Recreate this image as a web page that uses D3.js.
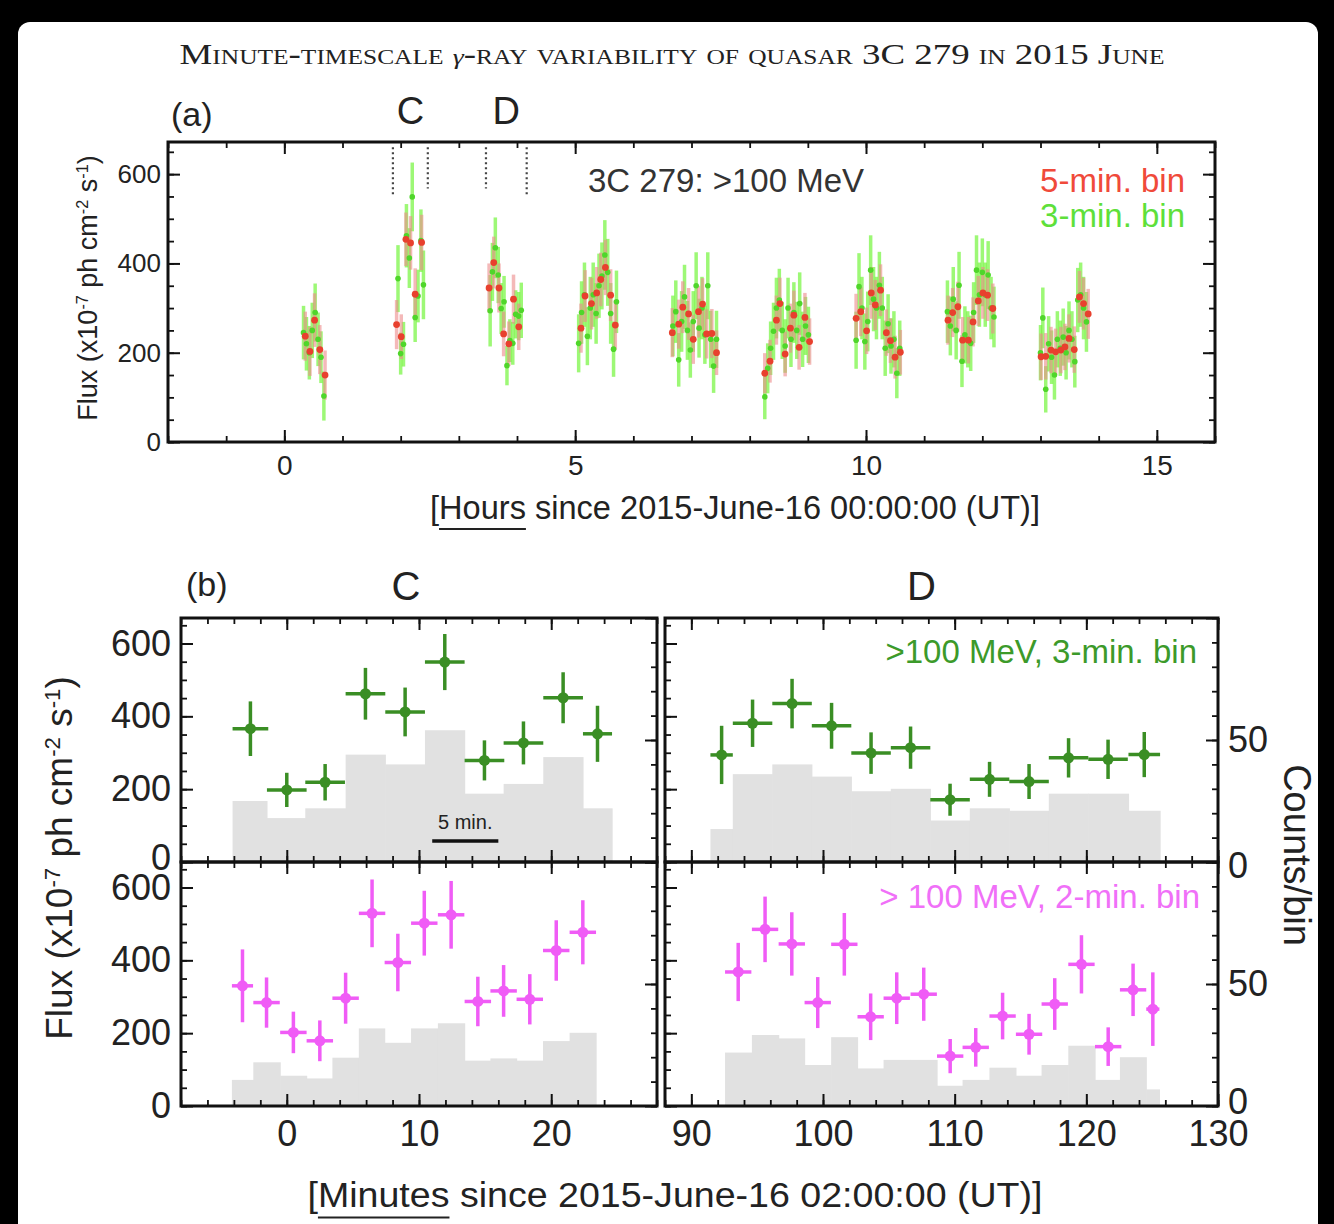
<!DOCTYPE html>
<html>
<head>
<meta charset="utf-8">
<script src="https://cdn.jsdelivr.net/npm/d3@7"></script>
<style>
  body { margin: 0; background: #000; }
  svg { display: block; }
</style>
</head>
<body>
<svg id="fig" width="1334" height="1224"></svg>
<script>
// ---------- data ----------
// panel (a): [hours, flux, error]  (5-min bins, red)
const redBins = [
  [0.36,237,55],[0.44,203,55],[0.52,273,60],[0.61,207,55],[0.70,150,55],
  [1.93,263,55],[2.01,236,50],[2.09,454,60],[2.17,446,60],[2.25,331,58],[2.36,447,62],
  [3.52,345,55],[3.60,402,58],[3.69,345,55],[3.77,242,50],[3.86,220,50],[3.94,320,55],[4.03,258,52],
  [5.10,255,55],[5.17,327,58],[5.28,310,58],[5.37,334,58],[5.44,364,60],[5.52,391,62],[5.61,329,58],[5.69,262,55],
  [6.67,245,55],[6.78,264,55],[6.85,302,58],[6.95,287,58],[7.03,230,55],[7.12,292,58],[7.19,309,58],[7.26,242,55],[7.35,243,55],[7.43,200,50],
  [8.26,154,45],[8.35,181,48],[8.46,273,55],[8.52,310,58],[8.61,197,50],[8.70,255,55],[8.76,284,55],[8.85,212,50],[8.95,279,55],[9.03,225,52],
  [9.83,277,55],[9.91,292,55],[10.01,249,52],[10.09,334,58],[10.16,307,56],[10.25,340,58],[10.35,245,52],[10.42,227,50],[10.50,190,48],[10.59,201,50],
  [11.41,273,55],[11.49,290,55],[11.58,303,56],[11.66,228,52],[11.76,228,52],[11.84,269,55],[11.93,316,56],[12.01,334,58],[12.09,329,58],[12.18,299,56],
  [13.01,191,52],[13.09,192,52],[13.18,206,52],[13.26,202,52],[13.35,206,52],[13.42,213,52],[13.49,232,54],[13.58,207,52],[13.67,325,58],[13.74,310,58],[13.82,287,56]
];
// panel (a): [hours, flux, error]  (3-min bins, green; flares C and D come from panel b)
const greenBins = [
  [0.33,245,60],[0.38,220,60],[0.43,200,60],[0.48,250,62],[0.53,290,65],[0.58,230,60],[0.63,190,58],[0.68,103,55],
  [5.06,221,65],[5.11,290,70],[5.16,330,72],[5.21,237,65],[5.26,300,70],[5.31,330,72],[5.36,288,68],[5.41,350,72],[5.46,372,75],[5.51,419,78],[5.56,380,75],[5.61,288,68],[5.66,208,62],[5.71,314,70],
  [6.68,260,68],[6.73,292,70],[6.78,184,60],[6.83,270,68],[6.88,325,72],[6.93,250,66],[6.98,206,62],[7.03,270,68],[7.08,350,75],[7.13,255,66],[7.18,300,70],[7.23,240,65],[7.28,350,75],[7.33,230,64],[7.38,170,60],[7.43,230,64],
  [8.26,101,50],[8.31,165,56],[8.36,210,60],[8.41,248,64],[8.46,300,68],[8.51,318,70],[8.56,250,64],[8.61,215,60],[8.66,300,68],[8.71,230,62],[8.76,290,68],[8.81,250,64],[8.86,310,70],[8.91,230,62],[8.96,260,65],[9.01,240,63],
  [9.83,228,64],[9.88,348,75],[9.93,300,70],[9.98,225,63],[10.03,270,67],[10.08,385,78],[10.13,320,72],[10.18,300,70],[10.23,351,75],[10.28,300,70],[10.33,210,62],[10.38,265,66],[10.43,215,62],[10.48,230,63],[10.53,154,56],[10.58,210,62],
  [11.40,292,70],[11.45,260,66],[11.50,320,72],[11.55,250,65],[11.60,351,75],[11.65,181,58],[11.70,240,64],[11.75,230,63],[11.80,221,62],[11.85,290,68],[11.90,385,78],[11.95,330,72],[12.00,380,76],[12.05,330,72],[12.10,374,76],[12.15,300,70],[12.20,280,68],
  [13.00,200,62],[13.04,278,68],[13.09,118,52],[13.14,220,62],[13.19,190,60],[13.24,150,55],[13.29,230,63],[13.34,210,62],[13.39,235,64],[13.44,200,60],[13.49,250,65],[13.54,230,63],[13.59,180,58],[13.64,318,72],[13.69,330,72],[13.74,300,70],[13.79,269,67]
];

// panel (b): [minutes since 02:00, flux, error, bin half-width (min), counts/bin]
const cUpper = [
  [-2.75,366,75,1.35,25],[0,198,47,1.5,18],[2.9,219,50,1.5,22],[5.95,462,71,1.5,44],[8.95,412,67,1.5,40],
  [11.95,549,77,1.5,54],[14.95,279,55,1.5,28],[17.9,327,59,1.5,32],[20.9,451,70,1.5,43],[23.5,352,77,1.1,22]
];
const dUpper = [
  [92.3,294,80,0.85,13.5],[94.65,381,65,1.5,36],[97.65,435,68,1.5,40],[100.65,374,63,1.5,35],[103.65,299,57,1.5,29],
  [106.65,314,58,1.5,30],[109.65,171,44,1.5,17],[112.65,227,48,1.5,22],[115.65,221,48,1.5,21],[118.65,286,54,1.5,28],
  [121.65,282,54,1.5,28],[124.4,295,62,1.2,21]
];
const cLower = [
  [-3.35,330,100,0.8,10.7],[-1.53,284,69,1,17.9],[0.5,202,57,1,12.4],[2.5,179,56,1,11.3],[4.45,296,70,1,19.8],
  [6.45,529,93,1,31.8],[8.4,394,79,1,25.9],[10.4,502,89,1,31.8],[12.43,525,93,1,33.9],[14.45,287,68,1,18.6],
  [16.4,316,71,1,19.5],[18.38,293,69,1,18.6],[20.38,427,83,1,26.6],[22.39,477,88,1,30]
];
const dLower = [
  [93.56,368,80,1,21.9],[95.6,485,90,1,29.1],[97.63,445,87,1,27.7],[99.6,284,70,1,16.8],[101.62,444,86,1,28.2],
  [103.62,245,64,1,15.4],[105.6,296,71,1,18.9],[107.65,307,73,1,18.9],[109.66,137,47,1,8.3],[111.6,161,53,1,10.7],
  [113.64,247,64,1,15.7],[115.65,197,56,1,12.4],[117.6,280,71,1,16.8],[119.63,389,80,1,24.7],[121.66,163,53,1,10.7],
  [123.55,319,72,1,20],[125.05,266,101,0.5,6.8]
];

// time windows shown in panel (b), minutes since 02:00
const cWindow = [-8, 28];
const dWindow = [88, 130];
const markFlux = [660, 548, 568, 568, 548]; // top and bottom of the dotted window marks in panel (a)

const fluxTicks = [0, 200, 400, 600];
const hourTicks = [0, 5, 10, 15];
const cMinTicks = [0, 10, 20];
const dMinTicks = [90, 100, 110, 120, 130];
const countTicks = [0, 50];

// ---------- setup ----------
const FONT = "'Liberation Sans', Arial, Helvetica, sans-serif";
const svg = d3.select("#fig");

svg.append("rect")
  .attr("x", 18).attr("y", 22)
  .attr("width", 1300).attr("height", 1240)
  .attr("rx", 12)
  .attr("fill", "#fff");

// inward ticks (minor + major) along one edge
function edgeTicks(make, scale, minor, major, tr, labels, fs, pad) {
  svg.append("g").attr("transform", tr)
    .call(make(scale).tickValues(minor).tickSize(-6).tickFormat(""))
    .call(s => s.select(".domain").remove())
    .selectAll("line").attr("stroke", "#111").attr("stroke-width", 1.8);
  const g = svg.append("g").attr("transform", tr)
    .call(make(scale).tickValues(major).tickSize(-12).tickPadding(pad || 0)
      .tickFormat(labels ? d3.format("d") : ""))
    .call(s => s.select(".domain").remove());
  g.selectAll("line").attr("stroke", "#111").attr("stroke-width", 2);
  g.selectAll("text").attr("font-size", fs).attr("font-family", FONT).attr("fill", "#222");
  if (!labels) g.selectAll("text").remove();
  return g;
}

function frameRect(x0, x1, y0, y1) {
  svg.append("rect")
    .attr("x", x0).attr("y", y0)
    .attr("width", x1 - x0).attr("height", y1 - y0)
    .attr("fill", "none").attr("stroke", "#111").attr("stroke-width", 3);
}

function label(x, y, txt, fs, opts = {}) {
  const t = svg.append("text")
    .attr("x", x).attr("y", y)
    .attr("font-family", opts.family || FONT)
    .attr("font-size", fs)
    .attr("fill", opts.fill || "#222")
    .attr("text-anchor", opts.anchor || "start")
    .text(txt);
  if (opts.transform) t.attr("transform", opts.transform);
  return t;
}

// flux label with superscripts
function fluxLabel(x, y, fs) {
  const t = svg.append("text")
    .attr("transform", `translate(${x},${y}) rotate(-90)`)
    .attr("text-anchor", "middle")
    .attr("font-family", FONT).attr("font-size", fs).attr("fill", "#222");
  t.append("tspan").text("Flux (x10");
  t.append("tspan").attr("baseline-shift", "super").attr("font-size", fs * 0.6).text("-7");
  t.append("tspan").text(" ph cm");
  t.append("tspan").attr("baseline-shift", "super").attr("font-size", fs * 0.6).text("-2");
  t.append("tspan").text(" s");
  t.append("tspan").attr("baseline-shift", "super").attr("font-size", fs * 0.6).text("-1");
  t.append("tspan").text(")");
}

// underlined first word in a bracketed axis title
function underlinedTitle(cx, y, word, rest, fs, len) {
  const t = svg.append("text")
    .attr("x", cx).attr("y", y)
    .attr("text-anchor", "middle")
    .attr("font-family", FONT).attr("font-size", fs).attr("fill", "#222")
    .attr("textLength", len).attr("lengthAdjust", "spacingAndGlyphs")
    .text("[" + word + rest);
  const node = t.node();
  const s = node.getStartPositionOfChar(1).x;
  const e = node.getEndPositionOfChar(word.length).x;
  svg.append("line")
    .attr("x1", s).attr("x2", e)
    .attr("y1", y + fs * 0.3).attr("y2", y + fs * 0.3)
    .attr("stroke", "#222").attr("stroke-width", 2);
}

// ---------- title ----------
const title = svg.append("text")
  .attr("x", 672).attr("y", 64)
  .attr("text-anchor", "middle")
  .attr("font-family", "'Liberation Serif', 'DejaVu Serif', serif")
  .attr("font-size", 29)
  .attr("fill", "#222")
  .attr("textLength", 985).attr("lengthAdjust", "spacingAndGlyphs");
title.append("tspan").attr("font-variant", "small-caps").text("Minute-timescale ");
title.append("tspan").attr("font-style", "italic").attr("font-size", 22).text("γ");
title.append("tspan").attr("font-variant", "small-caps").text("-ray variability of quasar 3C 279 in 2015 June");

// ---------- panel (a) ----------
const A = { l: 168, r: 1215, t: 142, b: 442 };
const xA = d3.scaleLinear().domain([-2, 16]).range([A.l, A.r]);
const yA = d3.scaleLinear().domain([0, 672]).range([A.b, A.t]);

// dotted marks for the flare windows
const markHours = [cWindow[0], cWindow[1], dWindow[0], dWindow[1]].map(m => 2 + m / 60);
svg.append("g").selectAll("line").data(markHours).join("line")
  .attr("x1", d => xA(d)).attr("x2", d => xA(d))
  .attr("y1", yA(markFlux[0]))
  .attr("y2", (d, i) => yA(markFlux[i + 1]))
  .attr("stroke", "#444").attr("stroke-width", 2.2)
  .attr("stroke-dasharray", "2,3");

// green points include flares C and D from panel (b)
const greenAll = greenBins
  .concat(cUpper.map(d => [2 + d[0] / 60, d[1], d[2]]))
  .concat(dUpper.map(d => [2 + d[0] / 60, d[1], d[2]]));

svg.append("g").selectAll("line").data(greenAll).join("line")
  .attr("x1", d => xA(d[0])).attr("x2", d => xA(d[0]))
  .attr("y1", d => yA(d[1] - d[2])).attr("y2", d => yA(d[1] + d[2]))
  .attr("stroke", "#74f53c").attr("stroke-opacity", 0.7).attr("stroke-width", 3.5);
svg.append("g").selectAll("line").data(redBins).join("line")
  .attr("x1", d => xA(d[0])).attr("x2", d => xA(d[0]))
  .attr("y1", d => yA(d[1] - d[2])).attr("y2", d => yA(d[1] + d[2]))
  .attr("stroke", "#ec8a8a").attr("stroke-opacity", 0.6).attr("stroke-width", 3.5);
svg.append("g").selectAll("circle").data(greenAll).join("circle")
  .attr("cx", d => xA(d[0])).attr("cy", d => yA(d[1])).attr("r", 2.8)
  .attr("fill", "#4fd62a");
svg.append("g").selectAll("circle").data(redBins).join("circle")
  .attr("cx", d => xA(d[0])).attr("cy", d => yA(d[1])).attr("r", 3.4)
  .attr("fill", "#e8402e");

edgeTicks(d3.axisBottom, xA, d3.range(-2, 17, 1), hourTicks, `translate(0,${A.b})`, true, 28, 13);
edgeTicks(d3.axisTop, xA, d3.range(-2, 17, 1), hourTicks, `translate(0,${A.t})`, false);
edgeTicks(d3.axisLeft, yA, d3.range(0, 672, 50), fluxTicks, `translate(${A.l},0)`, true, 26, 7);
edgeTicks(d3.axisRight, yA, d3.range(0, 672, 50), fluxTicks, `translate(${A.r},0)`, false);
frameRect(A.l, A.r, A.t, A.b);

label(171, 126, "(a)", 34);
label(xA(2 + d3.mean(cWindow) / 60), 124, "C", 38, { anchor: "middle" });
label(xA(2 + d3.mean(dWindow) / 60), 124, "D", 38, { anchor: "middle" });
label(588, 192, "3C 279: >100 MeV", 33, { fill: "#333" });
label(1185, 192, "5-min. bin", 33, { anchor: "end", fill: "#f04a3a" });
label(1185, 227, "3-min. bin", 33, { anchor: "end", fill: "#5ee03a" });
fluxLabel(97, 288, 27);
underlinedTitle(735, 519, "Hours", " since 2015-June-16 00:00:00 (UT)]", 33, 610);

// ---------- panel (b) ----------
const B = { t: 618, m: 862, b: 1106 };
const xC = d3.scaleLinear().domain(cWindow).range([181, 657]);
const xD = d3.scaleLinear().domain(dWindow).range([665, 1218]);
const yUp = d3.scaleLinear().domain([0, 670]).range([B.m, B.t]);
const yLo = d3.scaleLinear().domain([0, 670]).range([B.b, B.m]);
const cUp = d3.scaleLinear().domain([0, 100]).range([B.m, B.t]);
const cLo = d3.scaleLinear().domain([0, 100]).range([B.b, B.m]);

function subPanel(x, y, yc, rows, color) {
  // bin edges: close small gaps so neighbouring bins touch
  const bins = rows.map((d, i) => {
    const lo = d[0] - d[3];
    let hi = d[0] + d[3];
    const nx = rows[i + 1];
    if (nx && Math.abs((nx[0] - nx[3]) - hi) < 0.6) hi = nx[0] - nx[3];
    return [lo, hi, d[4]];
  });
  svg.append("g").selectAll("rect").data(bins).join("rect")
    .attr("x", d => x(d[0]))
    .attr("width", d => x(d[1]) - x(d[0]) + 0.6)
    .attr("y", d => yc(d[2]))
    .attr("height", d => yc(0) - yc(d[2]))
    .attr("fill", "#e1e1e1");
  const p = svg.append("g");
  p.selectAll("line.v").data(rows).join("line").attr("class", "v")
    .attr("x1", d => x(d[0])).attr("x2", d => x(d[0]))
    .attr("y1", d => y(d[1] - d[2])).attr("y2", d => y(d[1] + d[2]))
    .attr("stroke", color).attr("stroke-width", 3.5);
  p.selectAll("line.h").data(rows).join("line").attr("class", "h")
    .attr("x1", d => x(d[0] - d[3])).attr("x2", d => x(d[0] + d[3]))
    .attr("y1", d => y(d[1])).attr("y2", d => y(d[1]))
    .attr("stroke", color).attr("stroke-width", 3.5);
  p.selectAll("circle").data(rows).join("circle")
    .attr("cx", d => x(d[0])).attr("cy", d => y(d[1])).attr("r", 5.5)
    .attr("fill", color);
}

const GREEN = "#3a8e24", MAGENTA = "#f05cf6";
subPanel(xC, yUp, cUp, cUpper, GREEN);
subPanel(xD, yUp, cUp, dUpper, GREEN);
subPanel(xC, yLo, cLo, cLower, MAGENTA);
subPanel(xD, yLo, cLo, dLower, MAGENTA);

// 5-minute scale bar
svg.append("line")
  .attr("x1", xC(11)).attr("x2", xC(16))
  .attr("y1", yUp(58)).attr("y2", yUp(58))
  .attr("stroke", "#111").attr("stroke-width", 3.5);
label(xC(13.5), yUp(90), "5 min.", 20, { anchor: "middle" });

// ticks
[[xC, d3.range(-8, 29, 2), cMinTicks], [xD, d3.range(88, 131, 2), dMinTicks]].forEach(([x, minor, major]) => {
  edgeTicks(d3.axisTop, x, minor, major, `translate(0,${B.t})`, false);
  edgeTicks(d3.axisBottom, x, minor, major, `translate(0,${B.m})`, false);
  edgeTicks(d3.axisTop, x, minor, major, `translate(0,${B.m})`, false);
  edgeTicks(d3.axisBottom, x, minor, major, `translate(0,${B.b})`, true, 36, 14);
});
[[yUp, cUp, -4, 4], [yLo, cLo, 0, -4]].forEach(([y, yc, zeroShiftL, zeroShiftR]) => {
  const left = edgeTicks(d3.axisLeft, y, d3.range(0, 671, 50), fluxTicks, `translate(181,0)`, true, 36, 10);
  left.selectAll("text").filter(d => d === 0).attr("y", zeroShiftL);
  edgeTicks(d3.axisRight, yc, d3.range(0, 101, 10), [0, 50, 100], `translate(657,0)`, false);
  edgeTicks(d3.axisLeft, y, d3.range(0, 671, 50), fluxTicks, `translate(665,0)`, false);
  edgeTicks(d3.axisRight, yc, d3.range(0, 101, 10), [0, 50, 100], `translate(1218,0)`, false);
  // count labels on the far right
  svg.append("g").attr("transform", "translate(1218,0)")
    .call(d3.axisRight(yc).tickValues(countTicks).tickSize(0).tickPadding(10).tickFormat(d3.format("d")))
    .call(s => s.select(".domain").remove())
    .selectAll("text").attr("font-size", 36).attr("font-family", FONT).attr("fill", "#222")
    .filter(d => d === 0).attr("y", zeroShiftR);
});
frameRect(181, 657, B.t, B.m);
frameRect(181, 657, B.m, B.b);
frameRect(665, 1218, B.t, B.m);
frameRect(665, 1218, B.m, B.b);

label(186, 596, "(b)", 34);
label(xC(d3.mean(cWindow)) - 13, 600, "C", 40, { anchor: "middle" });
label(xD(d3.mean(dWindow)) - 20, 600, "D", 40, { anchor: "middle" });
label(1197, 663, ">100 MeV, 3-min. bin", 33, { anchor: "end", fill: "#3c9a2a" });
label(1200, 908, "> 100 MeV, 2-min. bin", 33, { anchor: "end", fill: "#f070f8" });
fluxLabel(72, 858, 37);
label(0, 0, "Counts/bin", 38, { anchor: "middle", transform: "translate(1284,855) rotate(90)" });
underlinedTitle(675, 1207, "Minutes", " since 2015-June-16 02:00:00 (UT)]", 35, 735);
</script>
</body>
</html>
